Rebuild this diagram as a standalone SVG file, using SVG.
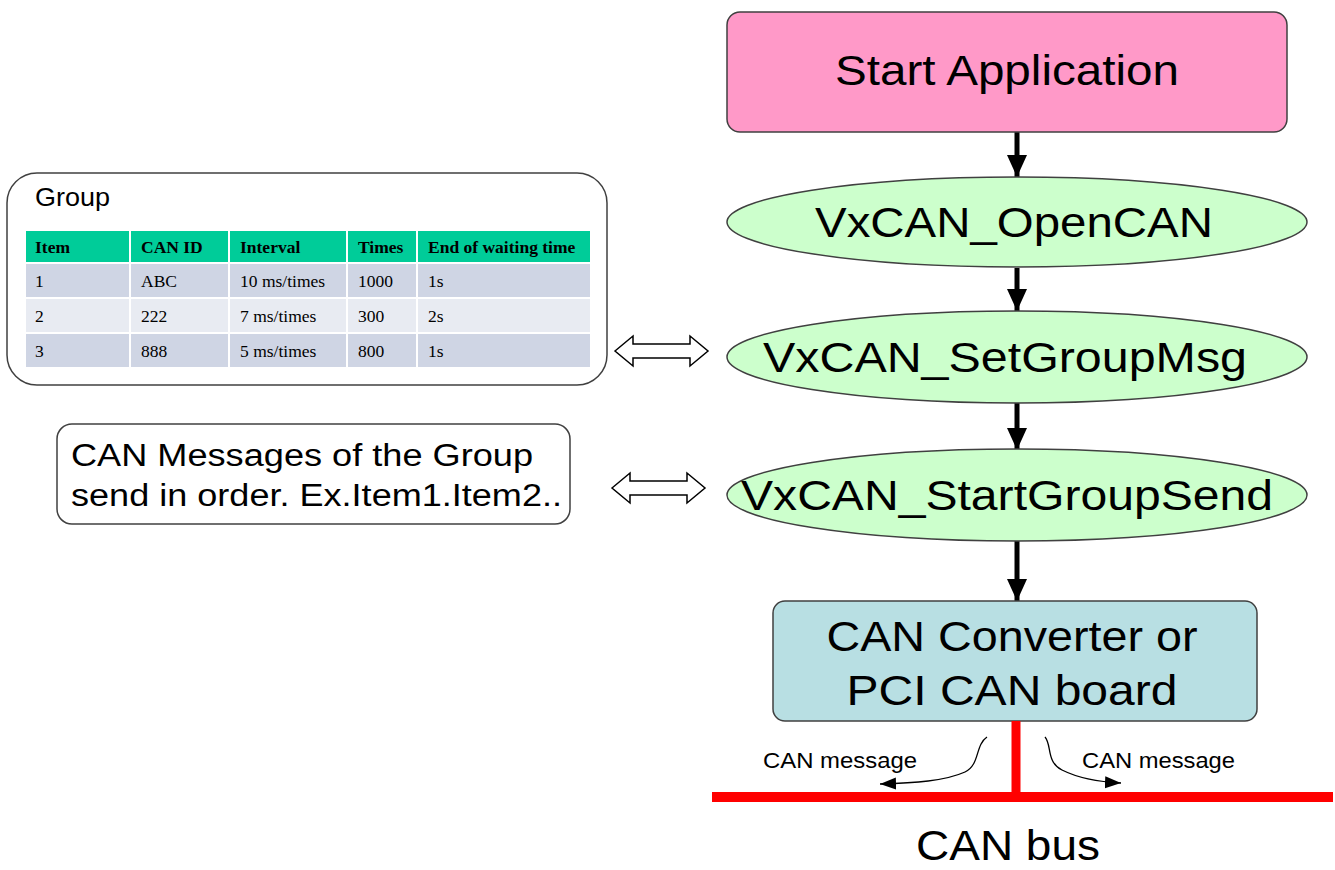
<svg xmlns="http://www.w3.org/2000/svg" width="1335" height="870" viewBox="0 0 1335 870">
<style>
.sans{font-family:"Liberation Sans",Arial,sans-serif;fill:#000}
.big{font-size:42px}
.serif{font-family:"Liberation Serif","Times New Roman",serif;font-size:17.5px;fill:#000}
.hdr{font-weight:bold}
.node{stroke:#404040;stroke-width:1.5}
.conn{stroke:#000;stroke-width:5;fill:none}
.dbl{fill:#fff;stroke:#000;stroke-width:1.5}
</style>
<defs>
<marker id="ah" markerUnits="userSpaceOnUse" markerWidth="24" markerHeight="20" refX="22" refY="10" orient="auto">
<path d="M0,0 L22,10 L0,20 Z" fill="#000"/>
</marker>
<marker id="sh" markerUnits="userSpaceOnUse" markerWidth="18" markerHeight="14" refX="16" refY="7" orient="auto">
<path d="M0,1 L16,7 L0,13 Z" fill="#000"/>
</marker>
</defs>
<rect width="1335" height="870" fill="#fff"/>

<g id="connectors">
<line class="conn" x1="1017" y1="132" x2="1017" y2="177" marker-end="url(#ah)"/>
<line class="conn" x1="1017" y1="268" x2="1017" y2="311" marker-end="url(#ah)"/>
<line class="conn" x1="1017" y1="402" x2="1017" y2="450" marker-end="url(#ah)"/>
<line class="conn" x1="1017" y1="540" x2="1017" y2="601" marker-end="url(#ah)"/>
<path class="dbl" d="M615,351 L633,336 L633,344 L690,344 L690,336 L708,351 L690,366 L690,358 L633,358 L633,366 Z"/>
<path class="dbl" d="M612,488 L630,473 L630,481 L687,481 L687,473 L705,488 L687,503 L687,495 L630,495 L630,503 Z"/>
<path d="M987,737 C975,745 980,765 965,772 C945,781 915,783 880,784" fill="none" stroke="#000" stroke-width="1.3" marker-end="url(#sh)"/>
<path d="M1045,737 C1052,745 1046,762 1062,770 C1078,778 1100,782 1121,783" fill="none" stroke="#000" stroke-width="1.3" marker-end="url(#sh)"/>
</g>

<g id="start">
<rect class="node" x="727" y="12" width="560" height="120" rx="13" fill="#ff99c8"/>
<text class="sans big" x="1007" y="85" text-anchor="middle" textLength="344" lengthAdjust="spacingAndGlyphs">Start Application</text>
</g>

<g id="opencan">
<ellipse class="node" cx="1017" cy="222" rx="290" ry="45" fill="#ccffcc"/>
<text class="sans big" x="1014" y="237" text-anchor="middle" textLength="398" lengthAdjust="spacingAndGlyphs">VxCAN_OpenCAN</text>
</g>

<g id="setgroupmsg">
<ellipse class="node" cx="1017" cy="357" rx="290" ry="46" fill="#ccffcc"/>
<text class="sans big" x="1005" y="372" text-anchor="middle" textLength="484" lengthAdjust="spacingAndGlyphs">VxCAN_SetGroupMsg</text>
</g>

<g id="startgroupsend">
<ellipse class="node" cx="1017" cy="495" rx="290" ry="46" fill="#ccffcc"/>
<text class="sans big" x="1007" y="510" text-anchor="middle" textLength="532" lengthAdjust="spacingAndGlyphs">VxCAN_StartGroupSend</text>
</g>

<g id="converter">
<rect class="node" x="773" y="601" width="484" height="120" rx="12" fill="#b8dfe3"/>
<text class="sans big" x="1012" y="651" text-anchor="middle" textLength="371" lengthAdjust="spacingAndGlyphs">CAN Converter or</text>
<text class="sans big" x="1012" y="705" text-anchor="middle" textLength="331" lengthAdjust="spacingAndGlyphs">PCI CAN board</text>
</g>

<g id="canbus">
<line x1="1016" y1="721" x2="1016" y2="797" stroke="#ff0000" stroke-width="9"/>
<line x1="712" y1="797" x2="1333" y2="797" stroke="#ff0000" stroke-width="10"/>
<text class="sans" x="763" y="768" font-size="22" textLength="154" lengthAdjust="spacingAndGlyphs">CAN message</text>
<text class="sans" x="1082" y="768" font-size="22" textLength="153" lengthAdjust="spacingAndGlyphs">CAN message</text>
<text class="sans big" x="1008" y="860" text-anchor="middle" textLength="184" lengthAdjust="spacingAndGlyphs">CAN bus</text>
</g>

<g id="group">
<rect x="7" y="173" width="600" height="212" rx="30" fill="#fff" stroke="#404040" stroke-width="1.5"/>
<text class="sans" x="35" y="206" font-size="26" textLength="75" lengthAdjust="spacingAndGlyphs">Group</text>
<g stroke="#fff" stroke-width="2">
<rect x="25" y="230" width="566" height="33" fill="#00cc99"/>
<rect x="25" y="263" width="566" height="35" fill="#cfd5e4"/>
<rect x="25" y="298" width="566" height="35" fill="#e8ebf2"/>
<rect x="25" y="333" width="566" height="35" fill="#cfd5e4"/>
<line x1="130" y1="230" x2="130" y2="368"/>
<line x1="229" y1="230" x2="229" y2="368"/>
<line x1="347" y1="230" x2="347" y2="368"/>
<line x1="417" y1="230" x2="417" y2="368"/>
</g>
<g class="serif hdr">
<text x="35" y="253">Item</text>
<text x="141" y="253">CAN ID</text>
<text x="240" y="253">Interval</text>
<text x="358" y="253">Times</text>
<text x="428" y="253">End of waiting time</text>
</g>
<g class="serif">
<text x="35" y="287">1</text><text x="141" y="287">ABC</text><text x="240" y="287">10 ms/times</text><text x="358" y="287">1000</text><text x="428" y="287">1s</text>
<text x="35" y="322">2</text><text x="141" y="322">222</text><text x="240" y="322">7 ms/times</text><text x="358" y="322">300</text><text x="428" y="322">2s</text>
<text x="35" y="357">3</text><text x="141" y="357">888</text><text x="240" y="357">5 ms/times</text><text x="358" y="357">800</text><text x="428" y="357">1s</text>
</g>
</g>

<g id="messages">
<rect x="57" y="424" width="513" height="100" rx="15" fill="#fff" stroke="#404040" stroke-width="1.5"/>
<text class="sans" x="71" y="466" font-size="31" textLength="462" lengthAdjust="spacingAndGlyphs">CAN Messages of the Group</text>
<text class="sans" x="71" y="506" font-size="31" textLength="491" lengthAdjust="spacingAndGlyphs">send in order. Ex.Item1.Item2..</text>
</g>
</svg>
